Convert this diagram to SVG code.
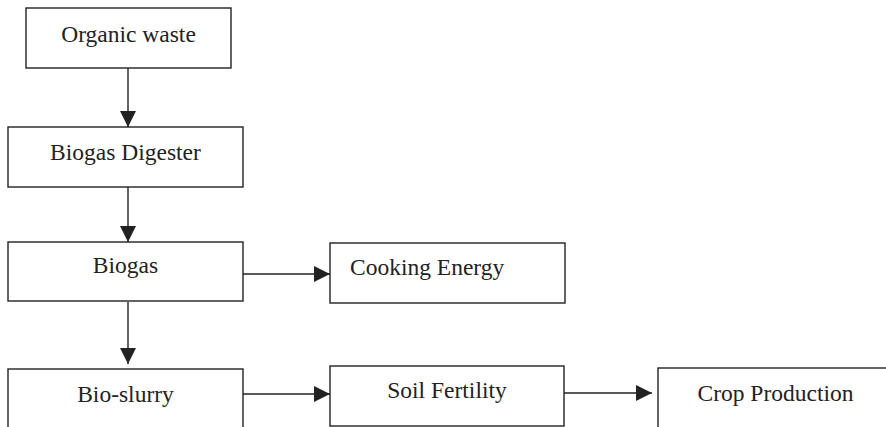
<svg xmlns="http://www.w3.org/2000/svg" width="886" height="427" viewBox="0 0 886 427">
<style>
.box{fill:#fff;stroke:#222;stroke-width:1.4}
.lbl{font-family:"Liberation Serif","Times New Roman",serif;font-size:23.5px;fill:#222}
.c{text-anchor:middle}
.edge{stroke:#222;stroke-width:1.4;fill:none}
</style>
<defs>
<marker id="ah" markerWidth="16" markerHeight="16" refX="16" refY="8" orient="auto" markerUnits="userSpaceOnUse">
<path d="M0,0 L16,8 L0,16 Z" fill="#222"/>
</marker>
</defs>
<rect width="886" height="427" fill="#fff"/>
<g id="connectors">
<line class="edge" x1="128" y1="68" x2="128" y2="127" marker-end="url(#ah)"/>
<line class="edge" x1="128" y1="187" x2="128" y2="242" marker-end="url(#ah)"/>
<line class="edge" x1="128" y1="302" x2="128" y2="364" marker-end="url(#ah)"/>
<line class="edge" x1="243" y1="274" x2="330" y2="274" marker-end="url(#ah)"/>
<line class="edge" x1="243" y1="394" x2="330" y2="394" marker-end="url(#ah)"/>
<line class="edge" x1="564" y1="393" x2="652" y2="393" marker-end="url(#ah)"/>
</g>
<g id="organic-waste">
<rect class="box" x="26" y="8" width="205" height="60"/>
<text class="lbl c" x="128.5" y="41.5">Organic waste</text>
</g>
<g id="biogas-digester">
<rect class="box" x="8" y="127" width="235" height="60"/>
<text class="lbl c" x="125.5" y="160">Biogas Digester</text>
</g>
<g id="biogas">
<rect class="box" x="8" y="242" width="235" height="59"/>
<text class="lbl c" x="125.5" y="273">Biogas</text>
</g>
<g id="bio-slurry">
<rect class="box" x="8" y="369" width="235" height="70"/>
<text class="lbl c" x="125.5" y="401.5">Bio-slurry</text>
</g>
<g id="cooking-energy">
<rect class="box" x="330" y="243" width="235" height="60"/>
<text class="lbl" x="350" y="275">Cooking Energy</text>
</g>
<g id="soil-fertility">
<rect class="box" x="330" y="366" width="234" height="60"/>
<text class="lbl c" x="447" y="398">Soil Fertility</text>
</g>
<g id="crop-production">
<rect class="box" x="658" y="368" width="240" height="70"/>
<text class="lbl c" x="775.5" y="401">Crop Production</text>
</g>
</svg>
